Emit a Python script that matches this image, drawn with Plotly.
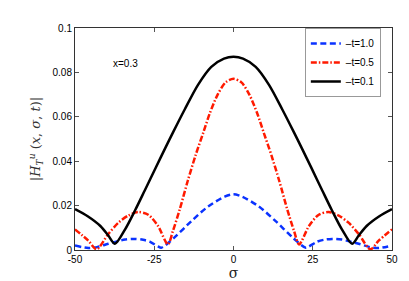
import plotly.graph_objects as go

# t = 1.0 (blue dashed)
sigma_b = [-50, -45.8, -43, -39.5, -34.2, -31.1, -28.5, -26.3, -23.8, -22.8, -18.6, -13.3, -8, -2.8, 0,
           2.8, 8, 13.3, 18.6, 22.8, 23.8, 26.3, 28.5, 31.1, 34.2, 39.5, 43, 45.8, 50]
h_t10 = [0.0020, 0.0009, 0.0013, 0.0028, 0.0047, 0.0050, 0.0046, 0.0037, 0.0016, 0.0010, 0.0057, 0.0130, 0.0196, 0.0240, 0.0251,
         0.0240, 0.0196, 0.0130, 0.0057, 0.0010, 0.0016, 0.0037, 0.0046, 0.0050, 0.0047, 0.0028, 0.0013, 0.0009, 0.0020]

# t = 0.5 (red dash-dot)
sigma_r = [-50, -45.8, -43.2, -39.5, -36.3, -33.2, -30, -26.9, -23.8, -20.7, -19.1, -17, -14.4, -12, -9.5, -7.5, -5, -2.5, 0,
           2.5, 5, 7.5, 9.5, 12, 14.4, 17, 19.1, 20.7, 23.8, 26.9, 30, 33.2, 36.3, 39.5, 43.2, 45.8, 50]
h_t05 = [0.0093, 0.0042, 0.0003, 0.0072, 0.0123, 0.0155, 0.0171, 0.0159, 0.0108, 0.0025, 0.0086, 0.0181, 0.0313, 0.0425, 0.0530, 0.0615, 0.0700, 0.0755, 0.0771,
         0.0755, 0.0700, 0.0615, 0.0530, 0.0425, 0.0313, 0.0181, 0.0086, 0.0025, 0.0108, 0.0159, 0.0171, 0.0155, 0.0123, 0.0072, 0.0003, 0.0042, 0.0093]

# t = 0.1 (black solid)
sigma_k = [-50, -46, -42, -39.5, -37.4, -34.2, -31, -28, -24.5, -21.5, -19, -15.4, -11.2, -7, -3, 0,
           3, 7, 11.2, 15.4, 19, 21.5, 24.5, 28, 31, 34.2, 37.4, 39.5, 42, 46, 50]
h_t01 = [0.0184, 0.0152, 0.0108, 0.0065, 0.0028, 0.0093, 0.0180, 0.0268, 0.0372, 0.0460, 0.0532, 0.0633, 0.0744, 0.0825, 0.0862, 0.0870,
         0.0862, 0.0825, 0.0744, 0.0633, 0.0532, 0.0460, 0.0372, 0.0268, 0.0180, 0.0093, 0.0028, 0.0065, 0.0108, 0.0152, 0.0184]

names = ["–t=1.0", "–t=0.5", "–t=0.1"]
x_ticks = [-50, -25, 0, 25, 50]
y_ticks = [0, 0.02, 0.04, 0.06, 0.08, 0.1]
y_tick_text = ["0", "0.02", "0.04", "0.06", "0.08", "0.1"]

fig = go.Figure()
fig.add_trace(go.Scatter(x=sigma_b, y=h_t10, mode="lines", name=names[0],
                         line=dict(color="#0a32ff", width=2.5, dash="6px,3.5px", shape="spline", smoothing=0.8)))
fig.add_trace(go.Scatter(x=sigma_r, y=h_t05, mode="lines", name=names[1],
                         line=dict(color="#ff1a00", width=2.5, dash="6px,2px,1.5px,2px", shape="spline", smoothing=0.8)))
fig.add_trace(go.Scatter(x=sigma_k, y=h_t01, mode="lines", name=names[2],
                         line=dict(color="black", width=2.5, shape="spline", smoothing=0.8)))

fig.add_annotation(x=-34, y=0.084, text="x=0.3", showarrow=False,
                   font=dict(family="Liberation Sans, Arial", size=10, color="black"))

axis_common = dict(showgrid=False, zeroline=False, showline=True, linecolor="#333", linewidth=1,
                   mirror="ticks", ticks="inside", ticklen=4, tickcolor="#555",
                   tickfont=dict(family="Liberation Sans, Arial", size=10, color="black"))

fig.update_xaxes(range=[-50, 50], tickvals=x_ticks, ticktext=[str(v) for v in x_ticks],
                 title=dict(text="σ", font=dict(family="DejaVu Serif, serif", size=14, color="#222"), standoff=2),
                 **axis_common)
fig.update_yaxes(range=[0, 0.1], tickvals=y_ticks, ticktext=y_tick_text,
                 title=dict(text="|<i>H</i><sub><i>T</i></sub><sup><i>u</i></sup> (<i>x</i>, <i>σ</i>, <i>t</i>)|",
                            font=dict(family="DejaVu Serif, serif", size=13, color="#333"), standoff=8),
                 **axis_common)

fig.update_layout(
    width=409, height=281,
    margin=dict(l=67, r=25, t=20, b=33),
    paper_bgcolor="white", plot_bgcolor="white",
    legend=dict(x=0.725, y=1.0, xanchor="left", yanchor="top",
                bgcolor="white", bordercolor="#999", borderwidth=1,
                font=dict(family="Liberation Sans, Arial", size=10, color="black"),
                tracegroupgap=0),
)

fig.write_html("out.html")
